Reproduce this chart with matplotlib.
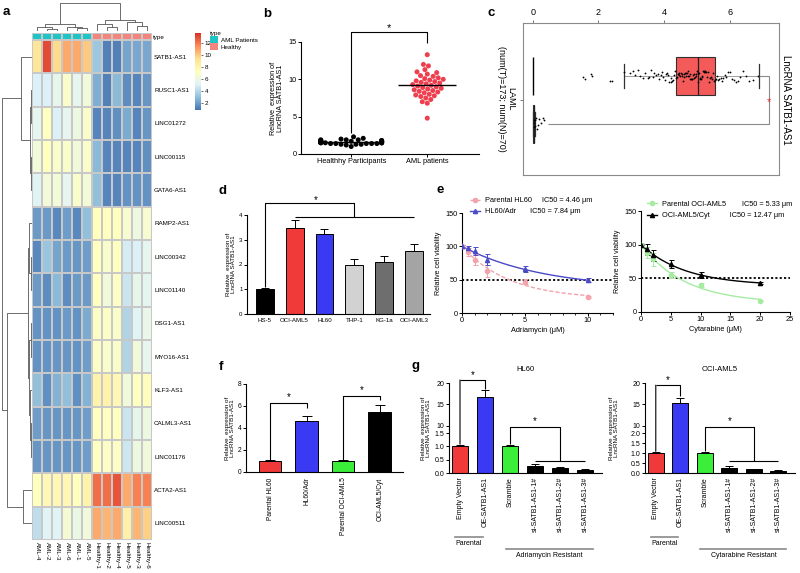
import numpy as np
import pandas as pd
import matplotlib
matplotlib.use("Agg")
import matplotlib.pyplot as plt
import seaborn as sns
from matplotlib.colors import LinearSegmentedColormap, ListedColormap, Normalize
from matplotlib.collections import LineCollection
from matplotlib.patches import Patch, ConnectionPatch
from matplotlib.lines import Line2D
from matplotlib.ticker import MultipleLocator, FormatStrFormatter
import matplotlib.transforms as mtransforms

plt.rcParams['font.family'] = ['Liberation Sans', 'DejaVu Sans']
plt.rcParams['axes.linewidth'] = 0.8
plt.rcParams['axes.facecolor'] = 'none'
plt.rcParams['xtick.major.width'] = 0.7
plt.rcParams['ytick.major.width'] = 0.7

# ---------------- data ----------------
hm_rows = ['SATB1-AS1', 'RUSC1-AS1', 'LINC01272', 'LINC00115', 'GATA6-AS1',
           'RAMP2-AS1', 'LINC00342', 'LINC01140', 'DSG1-AS1', 'MYO16-AS1',
           'KLF3-AS1', 'CALML3-AS1', 'LINC01176', 'ACTA2-AS1', 'LINC00511']
hm_cols = ['AML-4', 'AML-2', 'AML-3', 'AML-6', 'AML-1', 'AML-5',
           'Healthy-1', 'Healthy-2', 'Healthy-4', 'Healthy-5', 'Healthy-3', 'Healthy-6']
hm_values = [
    [9.0, 13.0, 9.5, 10.8, 10.8, 10.0, 3.3, 1.2, 1.2, 2.2, 2.3, 2.3],
    [5.0, 5.0, 5.6, 6.8, 5.5, 6.2, 2.5, 1.2, 2.8, 1.5, 1.3, 1.8],
    [5.5, 7.2, 5.0, 5.5, 6.0, 6.8, 1.3, 1.3, 1.6, 2.4, 1.3, 1.8],
    [6.3, 7.3, 6.8, 6.8, 6.2, 6.8, 2.8, 1.3, 1.3, 1.3, 1.3, 1.6],
    [5.2, 6.3, 6.3, 5.5, 6.8, 6.3, 3.0, 1.3, 1.3, 1.7, 1.7, 1.7],
    [1.9, 1.9, 1.4, 2.0, 1.4, 3.0, 7.3, 7.3, 7.3, 6.6, 6.0, 6.6],
    [1.4, 3.2, 2.2, 1.9, 1.8, 2.0, 7.2, 6.8, 7.2, 4.8, 5.0, 5.5],
    [1.9, 1.5, 2.8, 1.5, 1.9, 1.9, 7.2, 6.2, 7.0, 4.5, 5.6, 5.4],
    [1.7, 1.7, 1.7, 1.9, 1.7, 2.4, 7.0, 7.0, 6.8, 3.8, 5.2, 5.7],
    [1.7, 1.7, 1.8, 1.8, 1.7, 2.0, 7.0, 6.8, 6.8, 3.8, 6.2, 5.5],
    [3.0, 1.6, 2.6, 3.0, 1.6, 2.6, 8.2, 8.2, 7.8, 6.2, 7.2, 7.4],
    [2.0, 1.8, 1.8, 1.8, 1.8, 2.0, 7.2, 7.2, 7.2, 4.5, 5.6, 6.0],
    [1.8, 1.8, 1.8, 1.8, 1.8, 2.0, 7.2, 7.0, 7.0, 4.6, 6.0, 6.2],
    [7.3, 7.8, 7.8, 7.8, 7.3, 8.2, 12.2, 12.2, 12.8, 10.8, 11.8, 11.8],
    [4.2, 5.2, 5.2, 6.5, 5.8, 6.2, 10.8, 10.5, 10.8, 8.3, 10.5, 9.8],
]
col_types = ['AML Patients'] * 6 + ['Healthy'] * 6
type_names = ['AML Patients', 'Healthy']
# linkage: (child a, child b, height); indices >= n refer to earlier merges
col_merges = [(1, 2, 2), (0, 12, 4), (4, 5, 2.5), (3, 14, 3.5), (13, 15, 7),
              (7, 8, 4), (6, 17, 7), (10, 11, 5), (9, 19, 9), (18, 20, 11),
              (16, 21, 28)]
row_merges = [(1, 2, 1.2), (3, 4, 0.8), (15, 16, 2), (0, 17, 11),
              (6, 7, 1.0), (5, 19, 2.5), (8, 9, 0.8), (11, 12, 0.6),
              (10, 22, 1.5), (21, 23, 2.5), (20, 24, 4), (13, 14, 9),
              (25, 26, 25), (18, 27, 30)]

b_groups = ['Healthhy Participants', 'AML patients']
b_healthy = [2.3, 2.1, 2.0, 1.9, 1.9, 1.8, 1.8, 1.8, 1.7, 1.7, 1.7, 1.7, 1.6, 1.6,
             1.6, 1.6, 1.6, 1.5, 1.5, 1.5, 1.5, 1.5, 1.4, 1.4, 1.4, 1.4, 1.3, 1.3,
             1.3, 1.2, 1.0, 1.8, 1.9, 1.7, 1.5, 1.6, 1.4]
b_aml = [13.3, 12.0, 11.8, 11.3, 11.0, 10.9, 10.7, 10.5, 10.4, 10.2, 10.1, 10.0,
         9.9, 9.8, 9.7, 9.6, 9.5, 9.4, 9.3, 9.2, 9.1, 9.0, 8.9, 8.8, 8.7, 8.6,
         8.5, 8.4, 8.3, 8.2, 8.0, 7.9, 7.8, 7.7, 7.5, 7.3, 7.0, 6.8, 4.8]

c_tumor = [1.52, 1.58, 1.76, 1.80, 2.36, 2.42, 2.78, 2.95, 3.05, 3.12, 3.2, 3.28,
           3.35, 3.41, 3.5, 3.55, 3.6, 3.66, 3.7, 3.74, 3.8, 3.85, 3.9, 3.94,
           3.98, 4.02, 4.06, 4.1, 4.12, 4.16, 4.2, 4.22, 4.25, 4.28, 4.31, 4.34,
           4.36, 4.38, 4.41, 4.44, 4.46, 4.48, 4.5, 4.53, 4.55, 4.58, 4.6, 4.62,
           4.64, 4.66, 4.68, 4.7, 4.72, 4.74, 4.76, 4.78, 4.8, 4.82, 4.84, 4.86,
           4.88, 4.9, 4.92, 4.94, 4.96, 4.98, 5.0, 5.02, 5.04, 5.06, 5.08, 5.1,
           5.12, 5.14, 5.16, 5.18, 5.2, 5.22, 5.24, 5.26, 5.28, 5.3, 5.33, 5.36,
           5.39, 5.42, 5.45, 5.48, 5.51, 5.54, 5.57, 5.6, 5.64, 5.68, 5.72, 5.76,
           5.8, 5.85, 5.9, 5.95, 6.0, 6.06, 6.12, 6.18, 6.25, 6.32, 6.4, 6.5,
           6.6, 6.72, 6.85]
c_normal = [0.02, 0.05, 0.08, 0.1, 0.12, 0.15, 0.2, 0.25, 0.3, 0.35, 0.04, 0.06]
c_tumor_box = dict(q1=4.36, med=5.03, q3=5.55, whislo=2.77, whishi=6.89)
c_normal_box = dict(q1=0.0, med=0.02, q3=0.04, whislo=0.0, whishi=0.06)

d_cells = ['HS-5', 'OCI-AML5', 'HL60', 'THP-1', 'KG-1a', 'OCI-AML3']
d_mean = [1.0, 3.47, 3.23, 1.98, 2.10, 2.55]
d_err = [0.05, 0.33, 0.20, 0.24, 0.24, 0.28]
d_colors = ['#000000', '#F03A3A', '#3A3AF2', '#D2D2D2', '#6E6E6E', '#A4A4A4']

e_adr_dose = [0, 0.5, 1, 2, 5, 10]
e_par_hl60 = [100, 91, 80, 63, 47, 24]
e_par_hl60_err = [2, 6, 8, 9, 4, 1]
e_hl60_adr = [100, 97, 93, 80, 66, 49]
e_hl60_adr_err = [2, 4, 6, 8, 4, 3]
e_cyt_dose = [0, 1, 2, 5, 10, 20]
e_par_oci = [100, 88, 78, 55, 40, 17]
e_par_oci_err = [3, 8, 10, 5, 3, 1]
e_oci_cyt = [100, 93, 84, 71, 55, 43]
e_oci_cyt_err = [1, 8, 8, 6, 4, 2]

f_labels = ['Parental HL60', 'HL60/Adr', 'Parental OCI-AML5', 'OCI-AML5/Cyt']
f_mean = [1.0, 4.6, 1.0, 5.45]
f_err = [0.05, 0.5, 0.05, 0.65]
f_colors = ['#F03A3A', '#3A3AF2', '#3AEE3A', '#000000']

g_labels = ['Empty Vector', 'OE-SATB1-AS1', 'Scramble',
            'si-SATB1-AS1-1#', 'si-SATB1-AS1-2#', 'si-SATB1-AS1-3#']
g_hl60_mean = [1.0, 16.7, 1.0, 0.28, 0.18, 0.10]
g_hl60_err = [0.04, 1.7, 0.04, 0.05, 0.04, 0.04]
g_oci_mean = [1.0, 15.3, 1.0, 0.27, 0.18, 0.10]
g_oci_err = [0.04, 1.3, 0.04, 0.06, 0.04, 0.04]
g_colors = ['#F03A3A', '#3A3AF2', '#3AEE3A', '#000000', '#000000', '#000000']

YLAB = 'Relative  expression of\nLncRNA SATB1-AS1'

# ---------------- figure ----------------
W, H = 800, 573
fig = plt.figure(figsize=(8.0, 5.73), dpi=100, facecolor='white')


def pax(x0, y0, x1, y1):
    return fig.add_axes([x0 / W, 1 - y1 / H, (x1 - x0) / W, (y1 - y0) / H])


def ftext(x, y, s, **kw):
    return fig.text(x / W, 1 - y / H, s, **kw)


def simple_style(ax, fs):
    for s in ['top', 'right']:
        ax.spines[s].set_visible(False)
    ax.tick_params(labelsize=fs, length=2, width=0.7, pad=1.2)


def dendro_segments(merges, n):
    pos = [i + 0.5 for i in range(n)]
    hts = [0.0] * n
    segs = []
    for a, b, h in merges:
        segs.append([(pos[a], hts[a]), (pos[a], h), (pos[b], h), (pos[b], hts[b])])
        pos.append((pos[a] + pos[b]) / 2)
        hts.append(h)
    return segs


def bracket(ax, xs, ys, **kw):
    ax.plot(xs, ys, color=kw.pop('color', 'black'), lw=kw.pop('lw', 0.8),
            clip_on=False, solid_capstyle='butt', **kw)


# ---------- panel a: heatmap ----------
hm = np.array(hm_values)
hm_cmap = LinearSegmentedColormap.from_list(
    'ph', ['#4575B4', '#91BFDB', '#E0F3F8', '#FFFFBF', '#FEE090', '#FC8D59', '#D73027'])
hm_norm = Normalize(0.8, 13.7)
ax_hm = pax(32, 40, 152, 540)
ax_hm.pcolormesh(hm, cmap=hm_cmap, norm=hm_norm, edgecolors='#c8c8c8', linewidth=0.3)
ax_hm.set_xlim(0, hm.shape[1])
ax_hm.set_ylim(hm.shape[0], 0)
ax_hm.set_xticks(np.arange(hm.shape[1]) + 0.5)
ax_hm.set_xticklabels(hm_cols, rotation=270, fontsize=4.5)
ax_hm.set_yticks(np.arange(hm.shape[0]) + 0.5)
ax_hm.set_yticklabels(hm_rows, fontsize=4.5)
ax_hm.yaxis.tick_right()
ax_hm.tick_params(length=0, pad=1.5)
for s in ax_hm.spines.values():
    s.set_visible(False)

ax_tp = pax(32, 33, 152, 40)
type_colors = ['#1EC4C6', '#F4857C']
codes = np.array([[type_names.index(t) for t in col_types]])
ax_tp.pcolormesh(codes, cmap=ListedColormap(type_colors), vmin=-0.5, vmax=1.5,
                 edgecolors='#c8c8c8', linewidth=0.3)
ax_tp.set_axis_off()
ftext(153, 37.5, 'type', fontsize=4.5, va='center')

ax_cd = pax(32, 2, 152, 31)
ax_cd.add_collection(LineCollection(dendro_segments(col_merges, len(hm_cols)),
                                    colors='#555555', linewidths=0.6))
ax_cd.set_xlim(0, len(hm_cols))
ax_cd.set_ylim(0, 28.5)
ax_cd.set_axis_off()

ax_rd = pax(1, 40, 32, 540)
rsegs = [[(h, p) for (p, h) in seg] for seg in dendro_segments(row_merges, len(hm_rows))]
ax_rd.add_collection(LineCollection(rsegs, colors='#555555', linewidths=0.6))
ax_rd.set_xlim(30.5, 0)
ax_rd.set_ylim(len(hm_rows), 0)
ax_rd.set_axis_off()

cax = pax(195, 33, 201, 110)
sm = plt.cm.ScalarMappable(norm=hm_norm, cmap=hm_cmap)
cb = fig.colorbar(sm, cax=cax, ticks=[2, 4, 6, 8, 10, 12])
cb.outline.set_visible(False)
cax.tick_params(labelsize=4.5, length=1.5, width=0.4, pad=1)

fig.legend(handles=[Patch(facecolor=c, edgecolor='none') for c in type_colors],
           labels=type_names, title='type', loc='upper left',
           bbox_to_anchor=(210 / W, 1 - 31 / H), frameon=False, fontsize=4.5,
           title_fontsize=4.5, handlelength=1.3, handleheight=1.3,
           handletextpad=0.4, labelspacing=0.05, borderpad=0, borderaxespad=0,
           alignment='left')

# ---------- panel b ----------
ax_b = pax(301, 42, 479, 154)
df_b = pd.DataFrame({'group': [b_groups[0]] * len(b_healthy) + [b_groups[1]] * len(b_aml),
                     'value': b_healthy + b_aml})
sns.swarmplot(data=df_b, x='group', y='value', hue='group', order=b_groups,
              hue_order=b_groups, palette=['#000000', '#EE3F4F'], size=3.6,
              legend=False, ax=ax_b, zorder=3)
for i, vals in enumerate([b_healthy, b_aml]):
    ax_b.hlines(np.mean(vals), i - 0.38, i + 0.38, color='black', lw=1.0, zorder=4)
ax_b.set_xlim(-0.66, 1.68)
ax_b.set_ylim(0, 15)
ax_b.set_yticks([0, 5, 10, 15])
ax_b.set_xlabel('')
ax_b.set_ylabel(YLAB, fontsize=5.2, labelpad=3, linespacing=1.1)
simple_style(ax_b, 5.3)
bracket(ax_b, [0, 0, 1, 1], [max(b_healthy) + 0.5, 16.3, 16.3, 14.9])
ax_b.text(0.5, 16.9, '*', ha='center', va='center', fontsize=8)

# ---------- panel c ----------
ax_c = pax(523, 23, 779, 175)
np.random.seed(3)
df_c = pd.DataFrame({'grp': ['Tumor'] * len(c_tumor) + ['Normal'] * len(c_normal),
                     'val': c_tumor + c_normal})
sns.stripplot(data=df_c, x='val', y='grp', order=['Tumor', 'Normal'], orient='h',
              jitter=0.13, size=1.3, color='black', ax=ax_c, zorder=3)
st_t = dict(c_tumor_box, fliers=[])
st_n = dict(c_normal_box, fliers=[])
ax_c.bxp([st_t, st_n], positions=[0, 1], widths=0.8, orientation='horizontal',
         patch_artist=True, showfliers=False, capwidths=0.5,
         boxprops=dict(facecolor='#F45A5A', edgecolor='#303030', linewidth=0.8),
         medianprops=dict(color='#202020', linewidth=0.9),
         whiskerprops=dict(color='#777777', linewidth=0.5),
         capprops=dict(color='#303030', linewidth=0.9))
ax_c.vlines(0, -0.4, 0.4, color='black', lw=1.0, zorder=2)
ax_c.set_xlim(-0.3, 7.5)
ax_c.set_ylim(2.08, -1.12)
ax_c.xaxis.tick_top()
ax_c.set_xticks([0, 2, 4, 6])
ax_c.set_yticks([0.5])
ax_c.set_yticklabels([''])
ax_c.set_xlabel('')
ax_c.set_ylabel('')
ax_c.tick_params(labelsize=6.5, length=2.5, width=0.7, color='#777777', pad=1.5)
for s in ax_c.spines.values():
    s.set_color('#8a8a8a')
    s.set_linewidth(0.8)
bracket(ax_c, [c_tumor_box['whishi'], 7.2, 7.2, 0.45], [0, 0, 1, 1], color='#8a8a8a', lw=0.8)
ax_c.text(7.2, 0.55, '*', color='#E8312F', ha='center', va='center', fontsize=8)
ftext(506, 99, 'LAML\n(num(T)=173; num(N)=70)', rotation=270, ha='center',
      va='center', fontsize=6.5, multialignment='center', linespacing=1.1)
ftext(786, 100, 'LncRNA SATB1-AS1', rotation=270, ha='center', va='center', fontsize=7)

# ---------- panel d ----------
ax_d = pax(247, 215, 430, 314)
xd = np.arange(len(d_cells))
ax_d.bar(xd, d_mean, 0.6, color=d_colors, edgecolor='black', linewidth=0.7, zorder=2)
ax_d.errorbar(xd, d_mean, yerr=[np.zeros(len(xd)), d_err], fmt='none', ecolor='black',
              elinewidth=0.7, capsize=3, capthick=0.7, zorder=1)
ax_d.set_xlim(-0.6, 5.54)
ax_d.set_ylim(0, 4)
ax_d.set_yticks([0, 1, 2, 3, 4])
ax_d.set_xticks(xd)
ax_d.set_xticklabels(d_cells)
ax_d.set_ylabel(YLAB, fontsize=4.5, labelpad=2, linespacing=1.1)
simple_style(ax_d, 4.4)
ax_d.tick_params(axis='x', length=0, pad=3)
jd = (xd[1] + xd[-1]) / 2
bracket(ax_d, [0, 0, jd, jd], [d_mean[0] + d_err[0] + 0.05, 4.48, 4.48, 3.92])
bracket(ax_d, [xd[1], xd[-1]], [3.92, 3.92])
ax_d.text(jd / 2 + 0.2, 4.62, '*', ha='center', va='center', fontsize=7)


# ---------- panel e ----------
def fit_decay(x, y):
    x = np.asarray(x, float)
    y = np.asarray(y, float)
    best = None
    for k in np.linspace(0.01, 2.0, 800):
        e = np.exp(-k * x)
        b = np.sum((y - 100 * e) * (1 - e)) / np.sum((1 - e) ** 2)
        r = np.sum((100 * e + b * (1 - e) - y) ** 2)
        if best is None or r < best[0]:
            best = (r, k, b)
    return best[1], best[2]


def dose_panel(ax, dose, series, xmax, xlab):
    handles = []
    for vals, errs, col, mk, ls in series:
        k, b = fit_decay(dose, vals)
        xs = np.linspace(0, max(dose), 200)
        ys = 100 * np.exp(-k * xs) + b * (1 - np.exp(-k * xs))
        ax.plot(xs, ys, color=col, lw=1.0, ls=ls, zorder=2)
        ax.errorbar(dose, vals, yerr=errs, fmt=mk, color=col, ms=3, elinewidth=0.7,
                    capsize=1.8, capthick=0.7, zorder=3)
        handles.append(Line2D([], [], color=col, marker=mk, ms=3, lw=1.0, ls=ls))
    ax.axhline(50, color='black', ls=(0, (1.2, 1.2)), lw=1.3, zorder=1)
    ax.set_xlim(0, xmax)
    ax.set_ylim(0, 150)
    ax.set_yticks([0, 50, 100, 150])
    ax.set_ylabel('Relative cell viability', fontsize=5, labelpad=2)
    ax.set_xlabel(xlab, fontsize=5.3, labelpad=2)
    simple_style(ax, 5.3)
    return handles


ax_e1 = pax(462, 213, 613, 313)
h1 = dose_panel(ax_e1, e_adr_dose,
                [(e_par_hl60, e_par_hl60_err, '#F2A3AB', 'o', (0, (3, 1.5))),
                 (e_hl60_adr, e_hl60_adr_err, '#4A4AC6', '^', '-')],
                12, 'Adriamycin (μM)')
ax_e1.set_xticks([0, 5, 10])
ax_e1.xaxis.set_minor_locator(MultipleLocator(1))
ax_e1.tick_params(axis='x', which='minor', length=1.5, width=0.6)
ax_e1.legend(h1, ['Parental HL60     IC50 = 4.46 μm', 'HL60/Adr       IC50 = 7.84 μm'],
             loc='upper left', bbox_to_anchor=(0.05, 1.16), frameon=False, fontsize=5.3,
             handlelength=1.4, handletextpad=0.7, labelspacing=0.55, borderpad=0,
             borderaxespad=0)

ax_e2 = pax(641, 211, 790, 312)
h2 = dose_panel(ax_e2, e_cyt_dose,
                [(e_par_oci, e_par_oci_err, '#A6EBA2', 'o', '-'),
                 (e_oci_cyt, e_oci_cyt_err, '#000000', '^', '-')],
                25, 'Cytarabine (μM)')
ax_e2.set_xticks([0, 5, 10, 15, 20, 25])
ax_e2.legend(h2, ['Parental OCI-AML5        IC50 = 5.33 μm', 'OCI-AML5/Cyt          IC50 = 12.47 μm'],
             loc='upper left', bbox_to_anchor=(0.04, 1.10), frameon=False, fontsize=5.3,
             handlelength=1.4, handletextpad=0.7, labelspacing=0.55, borderpad=0,
             borderaxespad=0)

# ---------- panel f ----------
ax_f = pax(246, 384, 403, 472)
xf = np.arange(len(f_labels))
ax_f.bar(xf, f_mean, 0.62, color=f_colors, edgecolor='black', linewidth=0.7, zorder=2)
ax_f.errorbar(xf, f_mean, yerr=[np.zeros(len(xf)), f_err], fmt='none', ecolor='black',
              elinewidth=0.7, capsize=3.5, capthick=0.7, zorder=1)
ax_f.set_xlim(-0.66, 3.64)
ax_f.set_ylim(0, 8)
ax_f.set_yticks([0, 2, 4, 6, 8])
ax_f.set_xticks(xf)
ax_f.set_xticklabels(f_labels, rotation=90)
ax_f.set_ylabel(YLAB, fontsize=4.5, labelpad=2, linespacing=1.1)
simple_style(ax_f, 4.8)
ax_f.tick_params(axis='x', length=0, pad=4)
bracket(ax_f, [0, 0, 1, 1], [f_mean[0] + 0.1, 6.27, 6.27, 5.8])
ax_f.text(0.5, 6.8, '*', ha='center', va='center', fontsize=7)
bracket(ax_f, [2, 2, 3, 3], [f_mean[2] + 0.1, 6.9, 6.9, 6.55])
ax_f.text(2.5, 7.45, '*', ha='center', va='center', fontsize=7)


# ---------- panel g ----------
def g_panel(x0, x1, lo_max, lo_ticks, mean, err, title, res_label, ylab_x,
            top1, star1, leg1, top2, hline2, star2):
    ax_lo = pax(x0, 429, x1, 473)
    ax_up = pax(x0, 383, x1, 429)
    xg = np.arange(len(mean))
    for ax in (ax_lo, ax_up):
        ax.bar(xg, mean, 0.64, color=g_colors, edgecolor='black', linewidth=0.7, zorder=2)
        ax.errorbar(xg, mean, yerr=[np.zeros(len(xg)), err], fmt='none', ecolor='black',
                    elinewidth=0.7, capsize=3, capthick=0.7, zorder=1)
        ax.set_xlim(-0.44, 5.68)
        simple_style(ax, 5)
    ax_lo.set_ylim(0, lo_max)
    ax_lo.set_yticks(lo_ticks)
    ax_lo.yaxis.set_major_formatter(FormatStrFormatter('%.1f'))
    ax_up.set_ylim(9.3, 20)
    ax_up.set_yticks([10, 15, 20])
    ax_up.spines['bottom'].set_visible(False)
    ax_up.set_xticks([])
    ax_lo.set_xticks(xg)
    ax_lo.set_xticklabels(g_labels, rotation=90)
    ax_lo.tick_params(axis='x', length=0, pad=3)
    ax_up.text(0.5, 1.3, title, transform=ax_up.transAxes, ha='center', va='center',
               fontsize=5.5)
    # bracket: control vs over-expression (spans both axes)
    con = ConnectionPatch(xyA=(0, top1), coordsA=ax_up.transData,
                          xyB=(0, mean[0] + err[0] + 0.04), coordsB=ax_lo.transData,
                          color='black', lw=0.8)
    fig.add_artist(con)
    bracket(ax_up, [0, 1, 1], [top1, top1, leg1])
    ax_up.text(0.5, star1, '*', ha='center', va='center', fontsize=7)
    # bracket: scramble vs siRNA
    bracket(ax_lo, [2, 2, 4, 4], [mean[2] + err[2] + 0.04, top2, top2, hline2])
    bracket(ax_lo, [3, 5], [hline2, hline2])
    ax_lo.text(3, star2, '*', ha='center', va='center', fontsize=7)
    # group labels below
    blend = mtransforms.blended_transform_factory(ax_lo.transData, fig.transFigure)
    for (a, b), lab, yy in [((-0.2, 0.92), 'Parental', 537), ((1.82, 5.33), res_label, 549)]:
        ax_lo.plot([a, b], [1 - yy / H] * 2, color='#8a8a8a', lw=1.2, transform=blend,
                   clip_on=False)
        ax_lo.text((a + b) / 2, 1 - (yy + 3) / H, lab, transform=blend, ha='center',
                   va='top', fontsize=5)
    ftext(ylab_x, 428, YLAB, rotation=90, ha='center', va='center', fontsize=4.5,
          linespacing=1.1)
    return ax_lo, ax_up


g_panel(449, 602, 1.65, [0, 0.5, 1.0, 1.5], g_hl60_mean, g_hl60_err, 'HL60',
        'Adriamycin Resistant', 426, 20.7, 21.9, 18.6, 1.72, 0.45, 1.95)
g_panel(645, 795, 2.2, [0, 0.5, 1.0, 1.5, 2.0], g_oci_mean, g_oci_err, 'OCI-AML5',
        'Cytarabine Resistant', 614, 19.5, 20.7, 16.9, 2.3, 0.6, 2.6)

# ---------- panel letters ----------
for lab, x, y in [('a', 3, 15), ('b', 263, 17), ('c', 488, 16), ('d', 218, 194),
                  ('e', 436, 193), ('f', 219, 370), ('g', 412, 369)]:
    ftext(x, y, lab, fontsize=9.5, fontweight='bold', va='baseline')

fig.savefig('out.png', dpi=100, facecolor='white')
